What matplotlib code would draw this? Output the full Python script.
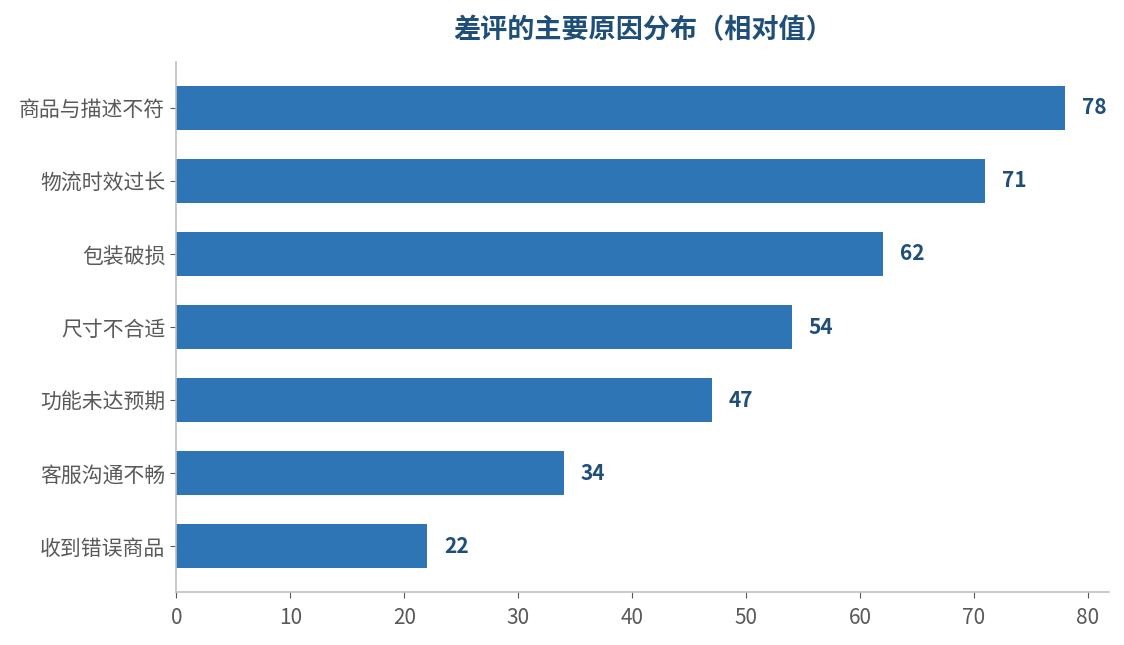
import matplotlib
matplotlib.use('Agg')
import matplotlib.pyplot as plt

plt.rcParams['font.family'] = ['Noto Sans CJK SC', 'DejaVu Sans']

reasons = ['商品与描述不符', '物流时效过长', '包装破损', '尺寸不合适',
           '功能未达预期', '客服沟通不畅', '收到错误商品']
values = [78, 71, 62, 54, 47, 34, 22]

fig, ax = plt.subplots(figsize=(11.24, 6.45), dpi=100)
fig.subplots_adjust(left=0.157, right=0.987, top=0.904, bottom=0.082)

ypos = list(range(len(reasons)))
ax.barh(ypos, values, height=0.6, color='#2E75B6')
ax.set_yticks(ypos)
ax.set_yticklabels(reasons)
ax.invert_yaxis()
ax.set_xlim(0, max(values) * 1.05)

for y, v in zip(ypos, values):
    ax.text(v + 1.5, y, str(v), va='center', ha='left',
            fontsize=15, fontweight='bold', color='#1F4E79')

ax.set_title('差评的主要原因分布（相对值）', fontsize=19.5, fontweight='bold',
             color='#1F4E79', pad=17)

for side in ['top', 'right']:
    ax.spines[side].set_visible(False)
for side in ['left', 'bottom']:
    ax.spines[side].set_color('#C0C0C0')
    ax.spines[side].set_linewidth(1.2)
ax.tick_params(axis='both', colors='#595959', labelsize=15, length=4)
ax.tick_params(axis='y', pad=4)
ax.tick_params(axis='x', pad=7)

fig.savefig('out.png', dpi=100)
